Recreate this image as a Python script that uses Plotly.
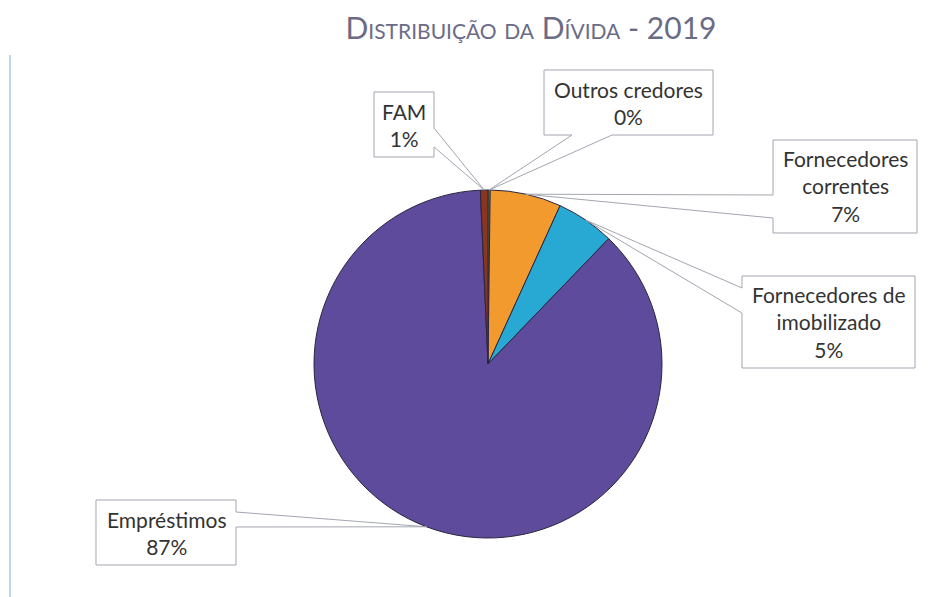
import math
import plotly.graph_objects as go

# ---- data ----
labels = ["Outros credores", "Fornecedores correntes", "Fornecedores de imobilizado", "Empréstimos", "FAM"]
label_lines = ["Outros credores", "Fornecedores<br>correntes", "Fornecedores de<br>imobilizado", "Empréstimos", "FAM"]
values = [0.2, 6.6, 5.4, 87.1, 0.7]
colors = ["#7f9a3c", "#f29a2e", "#27a9d4", "#5e4b9c", "#8a3520"]
title_text = "Distribuição da Dívida - 2019"

# ---- layout geometry (screen pixels) ----
SW, SH = 940, 597
OFF = 8                      # default page margin of the html body
W, H = SW - OFF, SH - OFF    # figure size
CX, CY, R = 488, 364, 174
# callout boxes: x0, y0, x1, y1, side of the pointer, pointer base start, end
boxes = [
    (544, 70, 713, 135, "bottom", 572, 612),
    (773, 140, 917, 233, "left", 195, 218),
    (742, 276, 915, 368, "left", 288, 313),
    (96, 500, 236, 565, "right", 512, 527),
    (374, 92, 434, 157, "right", 128, 147),
]


def px(x, y):
    return (x - OFF) / W, 1 - (y - OFF) / H


total = sum(values)
fig = go.Figure()
dx0, dy1 = px(CX - R, CY - R)
dx1, dy0 = px(CX + R, CY + R)
fig.add_trace(go.Pie(
    labels=labels, values=values, sort=False, direction="clockwise", rotation=0,
    marker=dict(colors=colors, line=dict(color="#2b2540", width=1)),
    textinfo="none", hoverinfo="label+percent", showlegend=False,
    domain=dict(x=[dx0, dx1], y=[dy0, dy1]),
))

shapes = []
annotations = []
cum = 0.0
for lab, v, b in zip(label_lines, values, boxes):
    mid = (cum + v / 2) / total
    cum += v
    th = mid * 2 * math.pi
    tx, ty = CX + R * math.sin(th), CY - R * math.cos(th)
    x0, y0, x1, y1, side, a, c = b
    if side == "right":
        pts = [(x0, y0), (x1, y0), (x1, a), (tx, ty), (x1, c), (x1, y1), (x0, y1)]
    elif side == "left":
        pts = [(x0, y0), (x1, y0), (x1, y1), (x0, y1), (x0, c), (tx, ty), (x0, a)]
    else:  # bottom
        pts = [(x0, y0), (x1, y0), (x1, y1), (c, y1), (tx, ty), (a, y1), (x0, y1)]
    pp = [px(*p) for p in pts]
    path = "M " + " L ".join(f"{p[0]:.5f},{p[1]:.5f}" for p in pp) + " Z"
    shapes.append(dict(type="path", xref="paper", yref="paper", path=path,
                       line=dict(color="#a3a6b0", width=1), fillcolor="rgba(255,255,255,0)",
                       layer="above"))
    pct = round(v / total * 100)
    mx, my = px((x0 + x1) / 2, (y0 + y1) / 2)
    annotations.append(dict(x=mx, y=my, xref="paper", yref="paper", showarrow=False,
                            text=f"{lab}<br>{pct:.0f}%", align="center",
                            xanchor="center", yanchor="middle",
                            font=dict(family="Lato, Carlito, sans-serif", size=21, color="#333333")))

# left blue rule
lx, ly = px(10, 55)
shapes.append(dict(type="line", xref="paper", yref="paper", x0=lx, x1=lx,
                   y0=0, y1=ly, line=dict(color="#a9c9ea", width=1.5)))

tx_, ty_ = px(531, 28)
fig.update_layout(
    width=W, height=H, margin=dict(l=0, r=0, t=0, b=0),
    paper_bgcolor="white", plot_bgcolor="white",
    title=dict(text=title_text, x=tx_, xanchor="center", y=ty_, yanchor="middle",
               font=dict(family="Lato, sans-serif", size=30, color="#6b6b86", variant="small-caps")),
    shapes=shapes, annotations=annotations,
)
fig.write_html("out.html")
